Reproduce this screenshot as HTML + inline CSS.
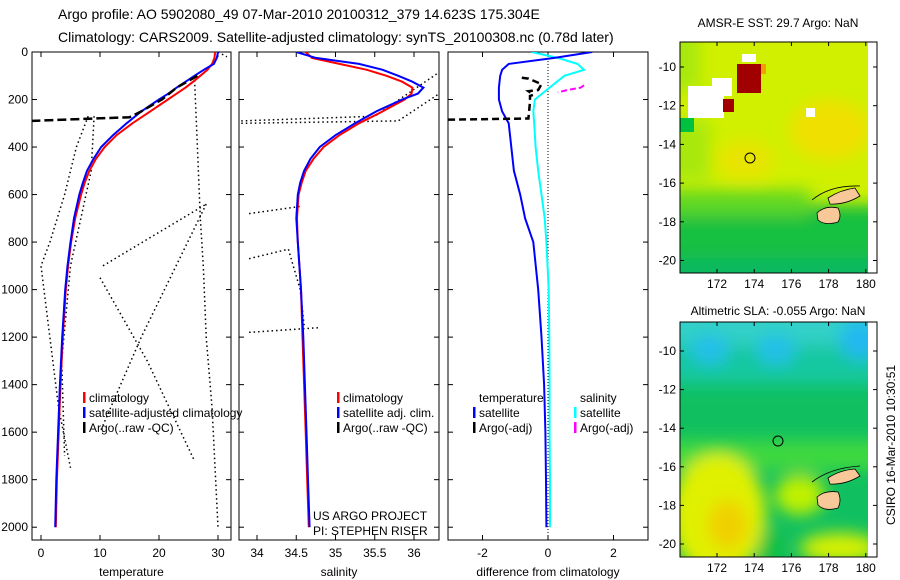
<!DOCTYPE html>
<html><head><meta charset="utf-8"><style>
html,body{margin:0;padding:0;background:#fff;}
svg{display:block;font-family:"Liberation Sans",sans-serif;}
</style></head><body>
<svg id="chart" width="900" height="580" viewBox="0 0 900 580" xmlns="http://www.w3.org/2000/svg">
<defs>
<filter id="blur" x="-20%" y="-20%" width="140%" height="140%"><feGaussianBlur stdDeviation="8"/></filter>
<clipPath id="m1clip"><rect x="680" y="42" width="188" height="231"/></clipPath>
<clipPath id="m2clip"><rect x="680" y="322" width="188" height="235"/></clipPath>
<clipPath id="p1clip"><rect x="32" y="52" width="199" height="488"/></clipPath>
<clipPath id="p2clip"><rect x="239" y="52" width="200" height="488"/></clipPath>
<clipPath id="p3clip"><rect x="448" y="52" width="200" height="488"/></clipPath>
</defs>
<text x="58" y="19" font-size="14">Argo profile: AO 5902080_49 07-Mar-2010 20100312_379 14.623S 175.304E</text>
<text x="58" y="42" font-size="14">Climatology: CARS2009. Satellite-adjusted climatology: synTS_20100308.nc (0.78d later)</text>

<!-- Map 1 -->
<g>
<text x="778" y="27" font-size="12" text-anchor="middle">AMSR-E SST: 29.7 Argo: NaN</text>
<g clip-path="url(#m1clip)">
<rect x="680" y="42" width="188" height="231" fill="#d0f000"/>
<g filter="url(#blur)">
<rect x="640" y="205" width="260" height="100" fill="#18c040"/>
<rect x="640" y="190" width="170" height="25" fill="#60d820"/>
<rect x="640" y="120" width="70" height="60" fill="#a8e810"/>
<rect x="640" y="30" width="60" height="60" fill="#a8e810"/>
<ellipse cx="830" cy="130" rx="40" ry="30" fill="#f0e000"/>
<ellipse cx="745" cy="160" rx="30" ry="20" fill="#e8e400"/>
<rect x="640" y="258" width="260" height="30" fill="#10b860"/>
</g>
<rect x="688" y="86" width="36" height="32" fill="#fff"/>
<rect x="712" y="78" width="20" height="18" fill="#fff"/>
<rect x="737" y="64" width="24" height="29" fill="#a00000"/>
<rect x="761" y="64" width="5" height="10" fill="#f0a000"/>
<rect x="723" y="99" width="11" height="13" fill="#a00000"/>
<rect x="742" y="54" width="14" height="8" fill="#fff"/>
<rect x="806" y="108" width="9" height="9" fill="#fff"/>
<rect x="680" y="118" width="14" height="14" fill="#00c040"/>
<path d="M828 198 Q840 190 855 188 L860 196 Q845 205 830 204 Z" fill="#f8c898" stroke="#000" stroke-width="0.8"/>
<path d="M817 213 Q825 205 838 208 Q842 216 838 222 Q825 226 818 220 Z" fill="#f8c898" stroke="#000" stroke-width="0.8"/>
<path d="M812 200 Q830 185 860 186" fill="none" stroke="#000" stroke-width="0.8"/>
<circle cx="750" cy="158" r="5" fill="none" stroke="#000" stroke-width="1"/>
</g>
<rect x="868" y="42" width="9" height="231" fill="#fff"/>
<rect x="680" y="42" width="197" height="231" fill="none" stroke="#000" stroke-width="1"/>
<g id="m1ticks"></g>
</g>

<!-- Map 2 -->
<g>
<text x="778" y="315" font-size="12" text-anchor="middle">Altimetric SLA: -0.055 Argo: NaN</text>
<g clip-path="url(#m2clip)">
<rect x="680" y="322" width="188" height="235" fill="#10c060"/>
<g filter="url(#blur)">
<rect x="640" y="290" width="260" height="55" fill="#30d0c8"/>
<rect x="640" y="345" width="260" height="40" fill="#18c8a0"/>
<ellipse cx="710" cy="350" rx="20" ry="15" fill="#20c0e8"/>
<ellipse cx="776" cy="350" rx="20" ry="15" fill="#20c0e8"/>
<ellipse cx="860" cy="340" rx="20" ry="20" fill="#20b8f0"/>
<rect x="640" y="440" width="260" height="30" fill="#40d840"/>
<ellipse cx="718" cy="515" rx="48" ry="62" fill="#e0f000"/>
<ellipse cx="728" cy="525" rx="20" ry="25" fill="#f0d000"/>
<ellipse cx="800" cy="495" rx="25" ry="20" fill="#c0f000"/>
<ellipse cx="840" cy="548" rx="40" ry="15" fill="#d8f000"/>
<ellipse cx="770" cy="548" rx="12" ry="20" fill="#10c040"/>
</g>
<path d="M828 478 Q840 470 855 469 L860 476 Q845 485 830 484 Z" fill="#f8c898" stroke="#000" stroke-width="0.8"/>
<path d="M817 497 Q825 490 838 492 Q842 500 838 508 Q825 512 818 505 Z" fill="#f8c898" stroke="#000" stroke-width="0.8"/>
<path d="M812 482 Q830 468 860 466" fill="none" stroke="#000" stroke-width="0.8"/>
<circle cx="778" cy="441" r="5" fill="none" stroke="#000" stroke-width="1"/>
</g>
<rect x="868" y="322" width="9" height="235" fill="#fff"/>
<rect x="680" y="322" width="197" height="235" fill="none" stroke="#000" stroke-width="1"/>
<g id="m2ticks"></g>
</g>
<text transform="translate(895,445) rotate(-90)" font-size="12" text-anchor="middle">CSIRO 16-Mar-2010 10:30:51</text>
<g id="panels"></g>
</svg>
<script>
// ---- data ----
var depthAxisTicks = [0,200,400,600,800,1000,1200,1400,1600,1800,2000];
var tempTicks = [0,10,20,30];
var salTicks = [34,34.5,35,35.5,36];
var diffTicks = [-2,0,2];
var latTicks = [-10,-12,-14,-16,-18,-20];
var lonTicks = [172,174,176,178,180];

var climDepth = [0,25,50,75,100,125,150,175,200,250,300,350,400,450,500,550,600,700,800,900,1000,1200,1400,1600,1800,2000];
var climTemp  = [29.5,29.4,29,28.2,27,25.8,24.5,23,21.5,18.5,15.5,12.8,10.8,9.3,8.2,7.4,6.8,5.8,5.1,4.6,4.2,3.7,3.3,3.0,2.7,2.5];
var satTemp   = [30,29.8,29.3,27.6,26,24.5,23,21.6,20,17,14.5,12.2,10.2,8.9,7.8,7.1,6.5,5.6,5.0,4.5,4.1,3.6,3.2,2.9,2.6,2.4];
var climSal   = [34.62,34.7,35.05,35.4,35.65,35.85,35.98,35.97,35.88,35.6,35.3,35.05,34.85,34.72,34.62,34.57,34.53,34.51,34.52,34.54,34.56,34.58,34.6,34.62,34.64,34.66];
var satSal    = [34.5,34.75,35.3,35.6,35.8,35.98,36.12,36.05,35.85,35.52,35.25,35.0,34.8,34.68,34.6,34.55,34.52,34.5,34.52,34.54,34.56,34.59,34.61,34.63,34.65,34.67];

var argoDepth = [100,150,200,250,275,280,290];
var argoTemp  = [26.5,23,20.5,17,15,9,-1.5];
var argoSalDepth = [120,170];
var argoSal = [36.4,36.4];

var rawT1D = [270,400,600,800,900,1100,1300,1500,1750];
var rawT1V = [8,6,4,1.5,0,1,2,3,5];
var rawT2D = [270,500,900,1300,1700];
var rawT2V = [9,8.5,5,3.5,4];
var rawT3D = [100,400,700,900,1200,1500,2000];
var rawT3V = [26,26.5,27,27.5,28,29,30];
var rawT4D = [0,20];
var rawT4V = [30,31.5];
var rawT5D = [900,640];
var rawT5V = [10.5,28];
var rawT6D = [640,1200,1600];
var rawT6V = [28,17,10];
var rawT7D = [950,1300,1720];
var rawT7V = [10,18,26];

var rawS1D = [290,270,90];
var rawS1V = [33.8,35.5,36.3];
var rawS2D = [300,290,180];
var rawS2V = [33.8,35.8,36.3];
var rawS3D = [680,650];
var rawS3V = [33.9,34.55];
var rawS4D = [870,830,1000,1150];
var rawS4V = [33.9,34.4,34.55,34.6];
var rawS5D = [1180,1160];
var rawS5V = [33.9,34.8];

var diffDepth = [0,25,50,75,100,150,200,250,300,400,500,600,700,800,1000,1200,1400,1600,1800,2000];
var diffTempSat = [1.35,0.2,-1.2,-1.4,-1.46,-1.5,-1.5,-1.4,-1.2,-1.12,-1.04,-0.85,-0.7,-0.45,-0.3,-0.2,-0.12,-0.08,-0.06,-0.05];
var diffSalSat  = [-0.5,0.3,0.9,1.1,0.5,0.05,-0.4,-0.45,-0.42,-0.38,-0.3,-0.2,-0.1,-0.05,0.02,0.04,0.05,0.05,0.06,0.06];
var diffArgoTD = [108,112,135,160,165,180,185,210,280,285];
var diffArgoTV = [-0.8,-0.6,-0.2,-0.3,-0.6,-0.45,-0.55,-0.55,-0.6,-3.1];
var diffArgoSD = [140,150,160,170];
var diffArgoSV = [1.1,1.0,0.6,0.3];

// ---- axes ----
var NS = "http://www.w3.org/2000/svg";
var g = document.getElementById('panels');
function yD(d){ return 52 + d*0.2376; }
function xT(v){ return 41 + v*5.9; }
function xS(v){ return 257 + (v-34)*78.5; }
function xDf(v){ return 548 + v*32.75; }
function latY1(l){ return 67 + (-10-l)*19.35; }
function latY2(l){ return 351 + (-10-l)*19.3; }
function lonX(l){ return 717 + (l-172)*18.6; }

function mk(tag, attrs, parent){ var e=document.createElementNS(NS,tag); for(var k in attrs) e.setAttribute(k,attrs[k]); (parent||g).appendChild(e); return e; }
function txt(x,y,s,size,anchor,parent){ var e=mk('text',{x:x,y:y,'font-size':size,'text-anchor':anchor||'start'},parent); e.textContent=s; return e; }
function line(xs, ds, xf, color, width, dash, name, clip){
  var p=''; for(var i=0;i<xs.length;i++){ p+=(i?'L':'M')+xf(xs[i]).toFixed(1)+' '+yD(ds[i]).toFixed(1); }
  var e=mk('path',{d:p,fill:'none',stroke:color,'stroke-width':width,'stroke-dasharray':dash||'none','clip-path':'url(#'+clip+')'});
  
  
  return e;
}
function panel(x0,x1,ticks,xf,label,name,yLabels){
  var r=mk('rect',{x:x0,y:52,width:x1-x0,height:488,fill:'none',stroke:'#000','stroke-width':1});
  
  
  ticks.forEach(function(t){ var x=xf(t);
    mk('line',{x1:x,x2:x,y1:540,y2:535,stroke:'#000'}); mk('line',{x1:x,x2:x,y1:52,y2:57,stroke:'#000'});
    var tl=txt(x,557,String(t),12,'middle');
    
    
  });
  depthAxisTicks.forEach(function(d){ var y=yD(d);
    mk('line',{x1:x0,x2:x0+5,y1:y,y2:y,stroke:'#000'}); mk('line',{x1:x1,x2:x1-5,y1:y,y2:y,stroke:'#000'});
    if(yLabels){ var tl=txt(28,y+4,String(d),12,'end');
      
       }
  });
  var al=txt((x0+x1)/2,576,label,12,'middle');
  
  
}
panel(32,231,tempTicks,xT,'temperature','temperature-panel',true);
panel(239,439,salTicks,xS,'salinity','salinity-panel',false);
panel(448,648,diffTicks,xDf,'difference from climatology','difference-panel',false);

// panel 1
[[rawT1V,rawT1D],[rawT2V,rawT2D],[rawT3V,rawT3D],[rawT4V,rawT4D],[rawT5V,rawT5D],[rawT6V,rawT6D],[rawT7V,rawT7D]].forEach(function(s){ line(s[0],s[1],xT,'#000',1.5,'1.5,3','argo-raw-temperature-dotted','p1clip'); });
line(climTemp,climDepth,xT,'#f00',2,null,'climatology-temperature-line','p1clip');
line(satTemp,climDepth,xT,'#00f',2,null,'satellite-temperature-line','p1clip');
line(argoTemp,argoDepth,xT,'#000',2.5,'9,4','argo-temperature-line','p1clip');
// panel 2
[[rawS1V,rawS1D],[rawS2V,rawS2D],[rawS3V,rawS3D],[rawS4V,rawS4D],[rawS5V,rawS5D]].forEach(function(s){ line(s[0],s[1],xS,'#000',1.5,'1.5,3','argo-raw-salinity-dotted','p2clip'); });
line(climSal,climDepth,xS,'#f00',2,null,'climatology-salinity-line','p2clip');
line(satSal,climDepth,xS,'#00f',2,null,'satellite-salinity-line','p2clip');
line(argoSal,argoSalDepth,xS,'#000',2,'6,4','argo-salinity-line','p2clip');
// panel 3
mk('line',{x1:xDf(0),x2:xDf(0),y1:52,y2:540,stroke:'#000','stroke-width':1,'stroke-dasharray':'1,2'});
line(diffSalSat,diffDepth,xDf,'#0ff',2,null,'salinity-difference-satellite','p3clip');
line(diffTempSat,diffDepth,xDf,'#00f',2,null,'temperature-difference-satellite','p3clip');
line(diffArgoTV,diffArgoTD,xDf,'#000',2.5,'7,4','temperature-difference-argo','p3clip');
line(diffArgoSV,diffArgoSD,xDf,'#f0f',2,'6,3','salinity-difference-argo','p3clip');

// legends
function legend(x,y,items,name){
  items.forEach(function(it,i){
    var yy=y+i*15;
    if(it[0]) mk('rect',{x:x,y:yy-10,width:2.5,height:11,fill:it[0]});
    var t=txt(x+6,yy,it[1],12,'start');
    
    
  });
}
legend(83,402,[['#f00','climatology'],['#00f','satellite-adjusted climatology'],['#000','Argo(..raw -QC)']],'temperature-legend');
legend(337,402,[['#f00','climatology'],['#00f','satellite adj. clim.'],['#000','Argo(..raw -QC)']],'salinity-legend');
legend(473,402,[[null,'temperature'],['#00f','satellite'],['#000','Argo(-adj)']],'diff-temperature-legend');
legend(574,402,[[null,'salinity'],['#0ff','satellite'],['#f0f','Argo(-adj)']],'diff-salinity-legend');
var c1=txt(313,520,'US ARGO PROJECT',12,'start');  
var c2=txt(313,535,'PI: STEPHEN RISER',12,'start');  

// map ticks
function mapTicks(id,latY,yb,yt){
  var p=document.getElementById(id);
  latTicks.forEach(function(l){ var y=latY(l);
    mk('line',{x1:680,x2:684,y1:y,y2:y,stroke:'#000'},p); mk('line',{x1:877,x2:873,y1:y,y2:y,stroke:'#000'},p);
    var t=txt(676,y+4,String(l),12,'end',p);  
  });
  lonTicks.forEach(function(l){ var x=lonX(l);
    mk('line',{x1:x,x2:x,y1:yb,y2:yb-4,stroke:'#000'},p); mk('line',{x1:x,x2:x,y1:yt,y2:yt+4,stroke:'#000'},p);
    var t=txt(x,yb+15,String(l),12,'middle',p);  
  });
}
mapTicks('m1ticks',latY1,273,42);
mapTicks('m2ticks',latY2,557,322);
</script>
</body></html>
